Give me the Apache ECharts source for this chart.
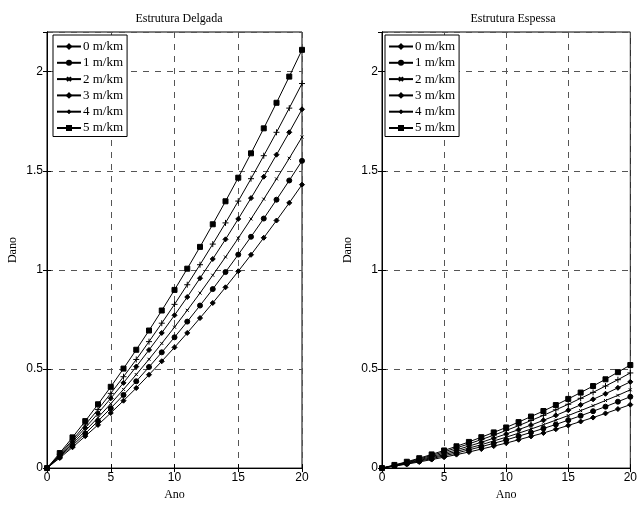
<!DOCTYPE html>
<html>
<head>
<meta charset="utf-8">
<script src="https://cdn.jsdelivr.net/npm/echarts@6/dist/echarts.min.js"></script>
<style>
  html, body { margin: 0; padding: 0; background: #fff; }
  #chart { width: 640px; height: 506px; }
</style>
</head>
<body>
<div id="chart"></div>
<script>
// anos no eixo x
const anos = [0, 1, 2, 3, 4, 5, 6, 7, 8, 9, 10, 11, 12, 13, 14, 15, 16, 17, 18, 19, 20]
const nomes = ['0 m/km', '1 m/km', '2 m/km', '3 m/km', '4 m/km', '5 m/km']

// Estrutura Delgada
const delgada0 = [0, 0.051, 0.105, 0.161, 0.218, 0.278, 0.340, 0.404, 0.471, 0.539, 0.609, 0.682, 0.757, 0.833, 0.912, 0.993, 1.076, 1.162, 1.249, 1.338, 1.43]
const delgada1 = [0, 0.056, 0.114, 0.174, 0.237, 0.302, 0.369, 0.438, 0.510, 0.584, 0.660, 0.739, 0.820, 0.903, 0.989, 1.077, 1.167, 1.259, 1.354, 1.451, 1.55]
const delgada2 = [0, 0.060, 0.123, 0.188, 0.255, 0.325, 0.397, 0.472, 0.549, 0.629, 0.711, 0.796, 0.883, 0.973, 1.065, 1.160, 1.257, 1.357, 1.459, 1.563, 1.67]
const delgada3 = [0, 0.065, 0.133, 0.203, 0.276, 0.352, 0.430, 0.512, 0.596, 0.682, 0.771, 0.863, 0.958, 1.055, 1.154, 1.257, 1.362, 1.470, 1.581, 1.694, 1.81]
const delgada4 = [0, 0.070, 0.142, 0.218, 0.296, 0.377, 0.461, 0.548, 0.638, 0.731, 0.826, 0.925, 1.026, 1.130, 1.237, 1.347, 1.460, 1.576, 1.694, 1.816, 1.94]
const delgada5 = [0, 0.076, 0.155, 0.237, 0.322, 0.410, 0.502, 0.597, 0.694, 0.795, 0.899, 1.006, 1.116, 1.230, 1.346, 1.465, 1.588, 1.714, 1.843, 1.975, 2.11]

// Estrutura Espessa
const espessa0 = [0, 0.010, 0.020, 0.031, 0.043, 0.055, 0.068, 0.081, 0.096, 0.111, 0.126, 0.143, 0.160, 0.177, 0.196, 0.215, 0.235, 0.255, 0.276, 0.298, 0.32]
const espessa1 = [0, 0.011, 0.022, 0.035, 0.048, 0.062, 0.076, 0.092, 0.108, 0.125, 0.142, 0.161, 0.180, 0.200, 0.220, 0.242, 0.264, 0.287, 0.310, 0.335, 0.36]
const espessa2 = [0, 0.012, 0.025, 0.038, 0.053, 0.068, 0.084, 0.101, 0.118, 0.137, 0.156, 0.176, 0.197, 0.219, 0.242, 0.265, 0.290, 0.315, 0.341, 0.367, 0.395]
const espessa3 = [0, 0.013, 0.027, 0.042, 0.058, 0.075, 0.092, 0.111, 0.130, 0.151, 0.172, 0.194, 0.217, 0.241, 0.266, 0.292, 0.319, 0.347, 0.375, 0.405, 0.435]
const espessa4 = [0, 0.014, 0.030, 0.046, 0.064, 0.082, 0.102, 0.122, 0.144, 0.166, 0.190, 0.214, 0.240, 0.266, 0.294, 0.322, 0.352, 0.382, 0.414, 0.446, 0.48]
const espessa5 = [0, 0.016, 0.032, 0.050, 0.069, 0.089, 0.110, 0.132, 0.156, 0.180, 0.205, 0.232, 0.260, 0.288, 0.318, 0.349, 0.381, 0.414, 0.448, 0.484, 0.52]

const serif = 'Liberation Serif'
const sans = 'Liberation Sans'

// marcadores estilo matlab
const marcadores = [
  { symbol: 'diamond', size: 5 },
  { symbol: 'circle', size: 5 },
  { symbol: 'path://M0,0L10,10M10,0L0,10', size: 3 },
  { symbol: 'diamond', size: 5 },
  { symbol: 'path://M5,0L5,10M0,5L10,5', size: 6 },
  { symbol: 'rect', size: 5 },
]

function makeSeries(values, idx, axisIdx) {
  const m = marcadores[idx]
  return {
    name: nomes[idx],
    type: 'line',
    xAxisIndex: axisIdx,
    yAxisIndex: axisIdx,
    data: anos.map((a, i) => [a, values[i]]),
    symbol: m.symbol,
    symbolSize: m.size,
    showSymbol: true,
    showAllSymbol: true,
    animation: false,
    lineStyle: { color: '#000', width: 1 },
    itemStyle: { color: '#000', borderColor: '#000', borderWidth: 1 },
    z: 3,
  }
}

const dash = { color: '#555', type: [6, 6], width: 1 }

function xAxes(grid) {
  return [
    {
      gridIndex: grid,
      type: 'value',
      min: 0,
      max: 20,
      interval: 5,
      name: 'Ano',
      nameLocation: 'middle',
      nameGap: 20,
      nameTextStyle: { fontFamily: serif, fontSize: 12, color: '#000' },
      axisLine: { lineStyle: { color: '#000' } },
      axisTick: { inside: true, length: 4, lineStyle: { color: '#000' } },
      axisLabel: { fontFamily: sans, fontSize: 12, color: '#000', margin: 4 },
      splitLine: { show: true, lineStyle: dash },
    },
    {
      gridIndex: grid,
      type: 'value',
      position: 'top',
      min: 0,
      max: 20,
      interval: 5,
      axisLine: { lineStyle: { color: '#000' } },
      axisTick: { inside: true, length: 4, lineStyle: { color: '#000' } },
      axisLabel: { show: false },
      splitLine: { show: false },
    },
  ]
}

function yAxes(grid) {
  return [
    {
      gridIndex: grid,
      type: 'value',
      min: 0,
      max: 2.2,
      interval: 0.5,
      name: 'Dano',
      nameLocation: 'middle',
      nameGap: 28,
      nameRotate: 90,
      nameTextStyle: { fontFamily: serif, fontSize: 12, color: '#000' },
      axisLine: { lineStyle: { color: '#000' } },
      axisTick: { inside: true, length: 4, lineStyle: { color: '#000' } },
      axisLabel: { fontFamily: sans, fontSize: 12, color: '#000', margin: 4, showMaxLabel: false },
      splitLine: { show: true, lineStyle: dash },
    },
    {
      gridIndex: grid,
      type: 'value',
      position: 'right',
      min: 0,
      max: 2.2,
      interval: 0.5,
      axisLine: { lineStyle: { color: '#000' } },
      axisTick: { inside: true, length: 4, lineStyle: { color: '#000' } },
      axisLabel: { show: false },
      splitLine: { show: false },
    },
  ]
}

function legenda(left) {
  return {
    orient: 'vertical',
    left: left,
    top: 35,
    data: nomes,
    itemWidth: 24,
    itemHeight: 5,
    itemGap: 3.3,
    padding: [5, 4, 2, 3],
    backgroundColor: '#fff',
    borderColor: '#000',
    borderWidth: 1,
    borderRadius: 0,
    selectedMode: false,
    textStyle: { fontFamily: serif, fontSize: 13, color: '#000', padding: [0, 0, 0, -3] },
  }
}

const chart = echarts.init(document.getElementById('chart'), null, { renderer: 'canvas' })
chart.setOption({
  animation: false,
  backgroundColor: '#fff',
  title: [
    { text: 'Estrutura Delgada', left: 174, top: 8, textAlign: 'center',
      textStyle: { fontFamily: serif, fontSize: 12, fontWeight: 'normal', color: '#000' } },
    { text: 'Estrutura Espessa', left: 508, top: 8, textAlign: 'center',
      textStyle: { fontFamily: serif, fontSize: 12, fontWeight: 'normal', color: '#000' } },
  ],
  legend: [legenda(53), legenda(385)],
  grid: [
    { left: 47, right: 338, top: 32, bottom: 29, show: true, borderColor: '#000', borderWidth: 1 },
    { left: 382, right: 5, top: 32, bottom: 29, show: true, borderColor: '#000', borderWidth: 1 },
  ],
  xAxis: [...xAxes(0), ...xAxes(1)],
  yAxis: [...yAxes(0), ...yAxes(1)],
  series: [
    makeSeries(delgada0, 0, 0),
    makeSeries(delgada1, 1, 0),
    makeSeries(delgada2, 2, 0),
    makeSeries(delgada3, 3, 0),
    makeSeries(delgada4, 4, 0),
    makeSeries(delgada5, 5, 0),
    makeSeries(espessa0, 0, 2),
    makeSeries(espessa1, 1, 2),
    makeSeries(espessa2, 2, 2),
    makeSeries(espessa3, 3, 2),
    makeSeries(espessa4, 4, 2),
    makeSeries(espessa5, 5, 2),
  ],
})
</script>
</body>
</html>
